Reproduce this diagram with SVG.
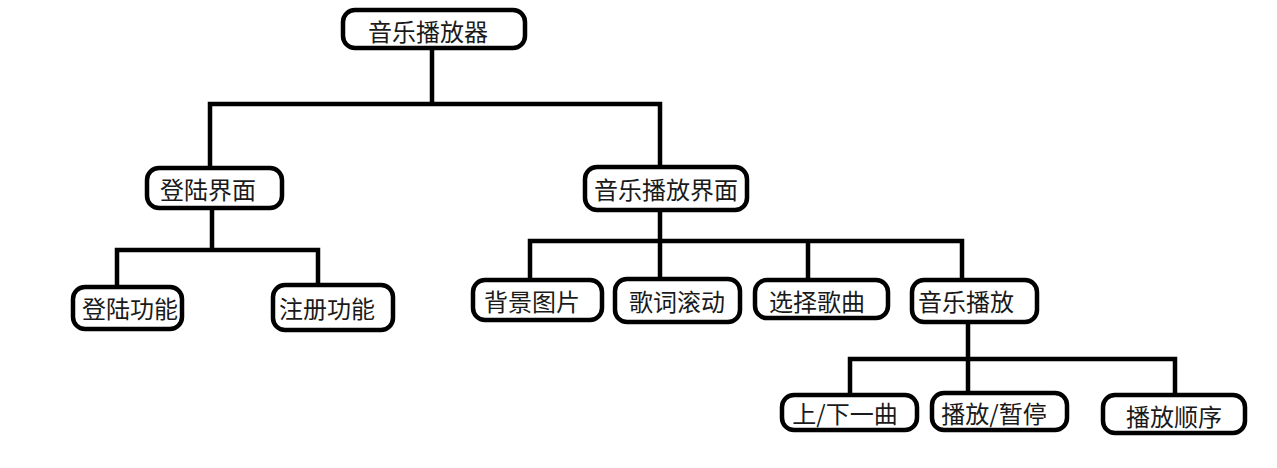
<svg xmlns="http://www.w3.org/2000/svg" width="1277" height="468" viewBox="0 0 1277 468">
<style>
.box{fill:#fff;stroke:#000;stroke-width:4.5}
.t{font-family:"Microsoft YaHei","Noto Sans CJK SC",sans-serif;font-size:24px;fill:#1a1a1a;text-anchor:middle;dominant-baseline:central}
.c{stroke:#000;stroke-width:4.5;fill:none;stroke-linecap:square}
</style>
<rect width="1277" height="468" fill="#fff"/>
<g id="connectors">
<path class="c" d="M432 48V104M210 104H660M210 104V168M660 104V167"/>
<path class="c" d="M212 208V250M117 250H318M117 250V287M318 250V285"/>
<path class="c" d="M660 210V241M530 241H962M530 241V280M660 241V279M808 241V280M962 241V280"/>
<path class="c" d="M968 322V359M850 359H1175M850 359V395M968 359V393M1175 359V395"/>
</g>
<g id="n-root"><rect class="box" x="343" y="10" width="182" height="38" rx="12"/><text class="t" x="428" y="30">音乐播放器</text></g>
<g id="n-login"><rect class="box" x="147" y="168" width="135" height="40" rx="12"/><text class="t" x="208" y="188">登陆界面</text></g>
<g id="n-play-ui"><rect class="box" x="585" y="167" width="162" height="43" rx="12"/><text class="t" x="666" y="188">音乐播放界面</text></g>
<g id="n-login-fn"><rect class="box" x="73" y="287" width="109" height="42" rx="12"/><text class="t" x="130" y="307">登陆功能</text></g>
<g id="n-register"><rect class="box" x="273" y="285" width="120" height="45" rx="12"/><text class="t" x="327" y="307">注册功能</text></g>
<g id="n-bg"><rect class="box" x="473" y="280" width="129" height="40" rx="12"/><text class="t" x="532" y="300">背景图片</text></g>
<g id="n-lyrics"><rect class="box" x="615" y="279" width="125" height="43" rx="12"/><text class="t" x="677" y="300">歌词滚动</text></g>
<g id="n-select"><rect class="box" x="755" y="280" width="133" height="38" rx="12"/><text class="t" x="817" y="300">选择歌曲</text></g>
<g id="n-music"><rect class="box" x="912" y="280" width="125" height="42" rx="12"/><text class="t" x="966" y="300">音乐播放</text></g>
<g id="n-prevnext"><rect class="box" x="782" y="395" width="135" height="35" rx="12"/><text class="t" x="845" y="412">上/下一曲</text></g>
<g id="n-pause"><rect class="box" x="932" y="393" width="135" height="37" rx="12"/><text class="t" x="994" y="412">播放/暂停</text></g>
<g id="n-order"><rect class="box" x="1103" y="395" width="142" height="38" rx="12"/><text class="t" x="1174" y="415">播放顺序</text></g>
</svg>
